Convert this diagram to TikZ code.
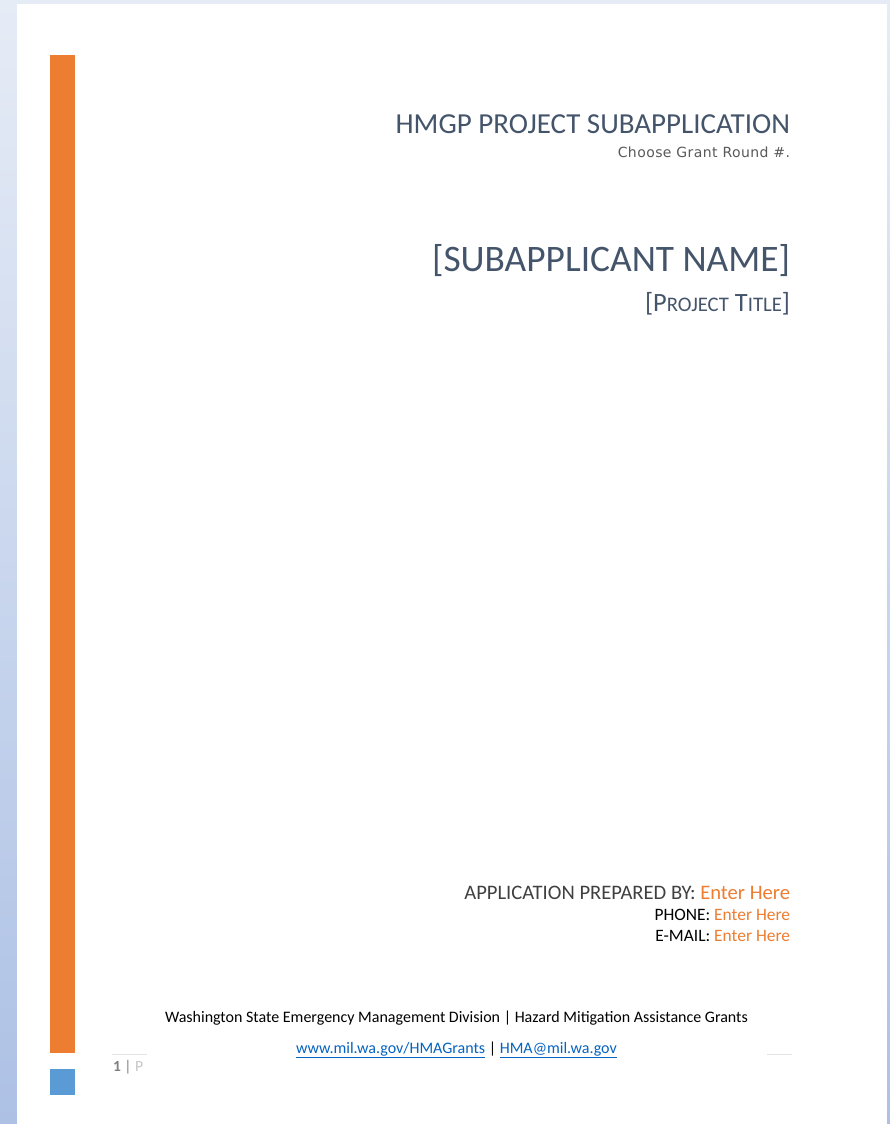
\documentclass[tikz,border=0pt]{standalone}
\usepackage{fontspec}
\setmainfont{Carlito}
\newfontfamily\dejavu[LetterSpace=3]{DejaVu Sans}
\usetikzlibrary{calc}
\definecolor{shadeTop}{HTML}{E6ECF6}
\definecolor{shadeBot}{HTML}{ADC1E5}
\definecolor{barOrange}{HTML}{ED7D31}
\definecolor{barBlue}{HTML}{5B9BD5}
\definecolor{titleBlue}{HTML}{44546A}
\definecolor{subGrey}{HTML}{595959}
\definecolor{prepGrey}{HTML}{404040}
\definecolor{linkBlue}{HTML}{0563C1}
\definecolor{ruleGrey}{HTML}{E3E3E3}
\tikzset{
  rtext/.style={anchor=base east, inner sep=0pt, outer sep=0pt},
  ctext/.style={anchor=base, inner sep=0pt, outer sep=0pt},
  ltext/.style={anchor=base west, inner sep=0pt, outer sep=0pt},
}
\newcommand{\fsz}[1]{\fontsize{#1bp}{#1bp}\selectfont}
\newcommand{\ulink}[1]{\underline{#1}}
\begin{document}
\begin{tikzpicture}[x=1bp,y=-1bp]
\useasboundingbox (0,0) rectangle (890,1124);
% page background / shadow
\fill[shadeTop] (0,0) rectangle (890,4);
\shade[top color=shadeTop, bottom color=shadeBot] (0,0) rectangle (17,1124);
\fill[white] (17,4) rectangle (887,1124);
\shade[top color=shadeTop, bottom color=shadeBot] (887,4) rectangle (890,1124);
% side bars
\fill[barOrange] (50,55) rectangle (75,1053);
\fill[barBlue] (50,1069) rectangle (75,1095);
% title block
\node[rtext, text=titleBlue] (title) at (790,133) {\fsz{29}HMGP PROJECT SUBAPPLICATION};
\node[rtext, text=subGrey] (round) at (790,157) {\dejavu\fsz{14}Choose Grant Round \#.};
\node[rtext, text=titleBlue] (name) at (790,271) {\fsz{37.4}[SUBAPPLICANT NAME]};
\node[rtext, text=titleBlue] (ptitle) at (790,311) {\fsz{26.4}[P{\fsz{20.7}ROJECT} T{\fsz{20.7}ITLE}]};
% prepared by
\node[rtext, text=prepGrey] (prep) at (790,899) {\fsz{20.6}APPLICATION PREPARED BY: \textcolor{barOrange}{Enter Here}};
\node[rtext, text=black] (phone) at (790,920) {\fsz{17.4}PHONE: \textcolor{barOrange}{Enter Here}};
\node[rtext, text=black] (email) at (790,941) {\fsz{17.4}E-MAIL: \textcolor{barOrange}{Enter Here}};
% footer
\node[ctext, text=black] (foot1) at (456.5,1022) {\fsz{16}Washington State Emergency Management Division | Hazard Mitigation Assistance Grants};
\node[ctext, text=black] (foot2) at (456.5,1053) {\fsz{16}\textcolor{linkBlue}{\ulink{www.mil.wa.gov/HMAGrants}} | \textcolor{linkBlue}{\ulink{HMA@mil.wa.gov}}};
\coordinate (r1a) at (112,1054);
\coordinate (r1b) at (147,1054);
\coordinate (r2a) at (767,1054);
\coordinate (r2b) at (792,1054);
\draw[ruleGrey, line width=1bp] (r1a) -- (r1b);
\draw[ruleGrey, line width=1bp] (r2a) -- (r2b);
\node[ltext, text=gray] (pnum) at (113,1071) {\fsz{15.5}\textbf{1} | \textcolor{ruleGrey!70!gray}{P}};
\end{tikzpicture}
\end{document}
